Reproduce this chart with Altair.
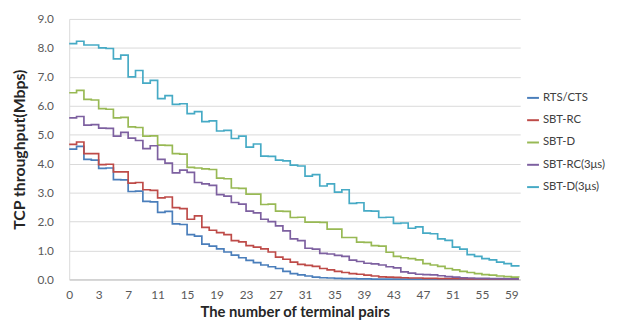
import altair as alt
import pandas as pd

# x positions (category index) and their shown tick labels
positions = list(range(62))
tick_positions = [0, 4, 8, 12, 16, 20, 24, 28, 32, 36, 40, 44, 48, 52, 56, 60]
tick_labels = ["0", "3", "7", "11", "15", "19", "23", "27", "31", "35", "39", "43", "47", "51", "55", "59"]

series_names = ["RTS/CTS", "SBT-RC", "SBT-D", "SBT-RC(3μs)", "SBT-D(3μs)"]
colors = ["#4A7EBB", "#BE4B48", "#98B954", "#7D60A0", "#46AAC5"]

rts_cts = [4.5, 4.6, 4.15, 4.12, 3.84, 3.85, 3.45, 3.44, 3.04, 3.05, 2.7, 2.68, 2.32, 2.35, 1.92, 1.9,
           1.55, 1.5, 1.22, 1.15, 1.06, 0.95, 0.84, 0.75, 0.66, 0.58, 0.5, 0.44, 0.38, 0.28, 0.2, 0.16,
           0.12, 0.08, 0.06, 0.05, 0.04, 0.03, 0.03, 0.02, 0.02, 0.01, 0.01, 0.01, 0.01, 0.01, 0.01, 0.01,
           0.01, 0.01, 0.01, 0.01, 0.01, 0.01, 0.01, 0.01, 0.01, 0.01, 0.01, 0.01, 0.01, 0.01]
sbt_rc = [4.67, 4.75, 4.35, 4.35, 3.97, 3.98, 3.72, 3.72, 3.33, 3.35, 3.1, 3.08, 2.82, 2.85, 2.48, 2.45,
          2.08, 2.2, 1.8, 1.7, 1.62, 1.55, 1.34, 1.3, 1.17, 1.12, 1.06, 0.95, 0.77, 0.7, 0.6, 0.52,
          0.49, 0.45, 0.38, 0.33, 0.28, 0.24, 0.2, 0.18, 0.15, 0.12, 0.09, 0.08, 0.07, 0.06, 0.05, 0.05,
          0.04, 0.04, 0.03, 0.03, 0.03, 0.03, 0.02, 0.02, 0.02, 0.02, 0.02, 0.02, 0.02, 0.02]
sbt_d = [6.45, 6.53, 6.22, 6.2, 5.9, 5.88, 5.58, 5.6, 5.27, 5.25, 4.95, 4.96, 4.64, 4.63, 4.35, 4.33,
         3.87, 3.85, 3.82, 3.8, 3.5, 3.48, 3.16, 3.15, 2.95, 2.95, 2.59, 2.6, 2.36, 2.35, 2.14, 2.15,
         1.98, 1.98, 1.97, 1.74, 1.74, 1.45, 1.45, 1.29, 1.28, 1.17, 1.15, 0.94, 0.8, 0.75, 0.72, 0.68,
         0.55, 0.5, 0.45, 0.38, 0.33, 0.28, 0.24, 0.2, 0.17, 0.15, 0.12, 0.1, 0.08, 0.07]
sbt_rc_3us = [5.58, 5.63, 5.33, 5.35, 5.23, 5.22, 4.95, 5.08, 4.88, 4.8, 4.52, 4.62, 4.15, 4.02, 3.68, 3.78,
              3.7, 3.35, 3.3, 3.25, 2.93, 2.88, 2.66, 2.6, 2.36, 2.3, 2.08, 2.0, 1.85, 1.68, 1.4, 1.34,
              1.08, 1.05, 0.9, 0.88, 0.83, 0.8, 0.67, 0.62, 0.56, 0.54, 0.5, 0.44, 0.4, 0.26, 0.22, 0.18,
              0.17, 0.16, 0.13, 0.1, 0.08, 0.06, 0.05, 0.04, 0.04, 0.03, 0.03, 0.02, 0.02, 0.02]
sbt_d_3us = [8.15, 8.23, 8.1, 8.1, 8.0, 7.98, 7.62, 7.75, 7.0, 7.22, 6.78, 6.88, 6.25, 6.35, 6.05, 6.07,
             5.73, 5.8, 5.45, 5.48, 5.13, 5.15, 4.87, 4.95, 4.57, 4.68, 4.26, 4.25, 4.12, 4.1, 3.95, 3.92,
             3.57, 3.62, 3.23, 3.3, 3.02, 3.1, 2.63, 2.65, 2.37, 2.36, 2.14, 2.15, 1.94, 1.95, 1.77, 1.82,
             1.6, 1.58, 1.4, 1.35, 1.12, 1.05, 0.86, 0.8, 0.72, 0.68, 0.6, 0.55, 0.47, 0.5]

all_series = [rts_cts, sbt_rc, sbt_d, sbt_rc_3us, sbt_d_3us]
rows = []
for name, vals in zip(series_names, all_series):
    for p, v in zip(positions, vals):
        rows.append({"pos": p, "value": v, "series": name})
df = pd.DataFrame(rows)

label_expr = "[" + ",".join("'" + t + "'" for t in tick_labels) + "][datum.value / 4]"

FONT = "Lato"

chart = alt.Chart(df).mark_line(interpolate="step-after", strokeWidth=1.7).encode(
    x=alt.X("pos:Q",
            scale=alt.Scale(domain=[0, 61.2], nice=False, zero=False),
            axis=alt.Axis(values=tick_positions, labelExpr=label_expr, grid=False, ticks=False,
                          domainColor="#BFBFBF", labelFont=FONT, labelFontSize=12, labelColor="#595959",
                          labelPadding=10, labelFlush=False,
                          titleFont=FONT, titleFontSize=15, titleFontWeight="bold", titleColor="#262626",
                          titleX=228.5, titleY=38, titleBaseline="alphabetic", titleAlign="center"),
            title="The number of terminal pairs"),
    y=alt.Y("value:Q",
            scale=alt.Scale(domain=[0, 9], nice=False),
            axis=alt.Axis(values=[0, 1, 2, 3, 4, 5, 6, 7, 8, 9], format=".1f", grid=True, gridColor="#D9D9D9",
                          ticks=False, domainColor="#D9D9D9", labelFont=FONT, labelFontSize=12,
                          labelColor="#595959", labelPadding=16,
                          titleFont=FONT, titleFontSize=16, titleFontWeight="bold", titleColor="#262626",
                          titleX=-50, titleY=132, titleAngle=270, titleBaseline="middle", titleAlign="center"),
            title="TCP throughput(Mbps)"),
    color=alt.Color("series:N",
                    scale=alt.Scale(domain=series_names, range=colors),
                    sort=series_names,
                    legend=alt.Legend(orient="none", legendX=463, legendY=73, symbolType="stroke",
                                      symbolSize=144, symbolStrokeWidth=2, labelFont=FONT,
                                      labelFontSize=11.5, labelColor="#404040", rowPadding=9.6,
                                      labelOffset=3, padding=0, labelLimit=200),
                    title=None),
).properties(
    width=457, height=264,
    autosize=alt.AutoSizeParams(type="none"),
    padding={"left": 62, "top": 9, "right": 92, "bottom": 41},
).configure_view(stroke="transparent")

chart.save("out.html", embed_options={"renderer": "svg", "actions": False})
